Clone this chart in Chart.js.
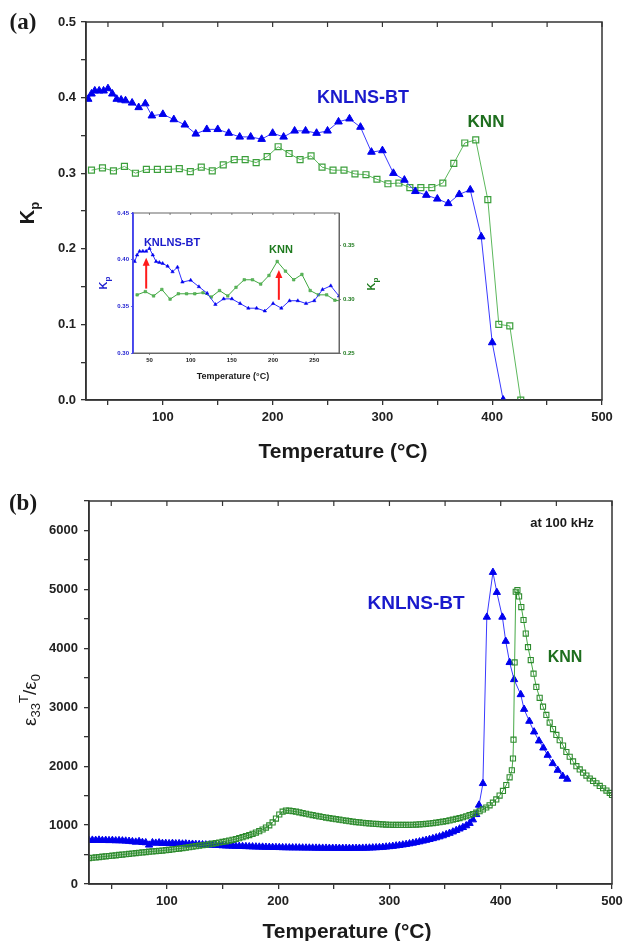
<!DOCTYPE html>
<html><head><meta charset="utf-8">
<script src="https://cdn.jsdelivr.net/npm/chart.js@4.4.1/dist/chart.umd.min.js"></script>
<style>
html,body{margin:0;padding:0;background:#fff;}
#wrap{position:relative;width:629px;height:941px;overflow:hidden;background:#fff;font-family:"Liberation Sans",Arial,sans-serif;color:#1a1a1a;}
canvas{position:absolute;}
.lbl{position:absolute;white-space:nowrap;transform:translate(-50%,-50%);line-height:1;}
.rot{transform:translate(-50%,-50%) rotate(-90deg);}
sub,sup{line-height:0;}
</style></head><body>
<div id="wrap">
<canvas id="ca" width="629" height="470" style="left:0;top:0"></canvas>
<canvas id="cb" width="629" height="471" style="left:0;top:470px"></canvas>
<canvas id="ci" width="265" height="190" style="left:100px;top:200px"></canvas>

<div class="lbl" style="left:23px;top:22px;font:bold 23px 'Liberation Serif','Times New Roman',serif;">(a)</div>
<div class="lbl" style="left:23px;top:503px;font:bold 23px 'Liberation Serif','Times New Roman',serif;">(b)</div>

<div class="lbl rot" style="left:27px;top:213px;font-weight:bold;font-size:20px;">K<sub style="font-size:13px">p</sub></div>
<div class="lbl" style="left:343px;top:450px;font-weight:bold;font-size:21px;">Temperature (°C)</div>
<div class="lbl" style="left:363px;top:97px;font-weight:bold;font-size:18px;color:#1a1acc;">KNLNS-BT</div>
<div class="lbl" style="left:486px;top:121px;font-weight:bold;font-size:17px;color:#1e6e1e;">KNN</div>

<div class="lbl" style="left:172px;top:242px;font-weight:bold;font-size:11px;color:#1a1acc;">KNLNS-BT</div>
<div class="lbl" style="left:281px;top:249px;font-weight:bold;font-size:11px;color:#1e7a1e;">KNN</div>
<div class="lbl" style="left:233px;top:376px;font-weight:bold;font-size:9px;">Temperature (°C)</div>
<div class="lbl rot" style="left:103px;top:283px;font-weight:bold;font-size:11px;color:#2020d0;">K<sub style="font-size:8px">p</sub></div>
<div class="lbl rot" style="left:371px;top:284px;font-weight:bold;font-size:11px;color:#1e7a1e;">K<sub style="font-size:8px">p</sub></div>

<div class="lbl rot" style="left:29px;top:700px;font-size:19px;">ε<sub style="font-size:13px">33</sub><sup style="font-size:13px">T</sup>/ε<sub style="font-size:13px">0</sub></div>
<div class="lbl" style="left:347px;top:930px;font-weight:bold;font-size:21px;">Temperature (°C)</div>
<div class="lbl" style="left:562px;top:522px;font-weight:bold;font-size:13px;">at 100 kHz</div>
<div class="lbl" style="left:416px;top:602px;font-weight:bold;font-size:19px;color:#1a1acc;">KNLNS-BT</div>
<div class="lbl" style="left:565px;top:657px;font-weight:bold;font-size:16px;color:#1e6e1e;">KNN</div>
</div>
<script>
// ---------- Panel (a): planar coupling factor Kp ----------
const kpT_BT = [32,35,38,42,46,50,54,58,62,66,72,78,84,90,100,110,120,130,140,150,160,170,180,190,200,210,220,230,240,250,260,270,280,290,300,310,320,330,340,350,360,370,380,390,400,410];
const kp_BT  = [0.398,0.405,0.409,0.409,0.409,0.412,0.405,0.398,0.397,0.396,0.393,0.387,0.392,0.376,0.378,0.371,0.364,0.352,0.358,0.358,0.353,0.348,0.348,0.345,0.353,0.348,0.356,0.356,0.353,0.356,0.368,0.372,0.361,0.328,0.330,0.300,0.291,0.276,0.271,0.266,0.260,0.272,0.278,0.216,0.076,0.000];
const kpT_KNN = [35,45,55,65,75,85,95,105,115,125,135,145,155,165,175,185,195,205,215,225,235,245,255,265,275,285,295,305,315,325,335,345,355,365,375,385,396,406,416,426];
const kp_KNN  = [0.304,0.307,0.303,0.309,0.300,0.305,0.305,0.305,0.306,0.302,0.308,0.303,0.311,0.318,0.318,0.314,0.322,0.335,0.326,0.318,0.323,0.308,0.304,0.304,0.299,0.298,0.292,0.286,0.287,0.281,0.281,0.281,0.287,0.313,0.340,0.344,0.265,0.100,0.098,0.000];

// ---------- Panel (b): dielectric constant at 100 kHz ----------
const epsT_BT = [30,33,36,39,42,45,48,51,54,57,60,63,66,69,72,75,78,81,84,87,90,93,96,99,102,105,108,111,114,117,120,123,126,129,132,135,138,141,144,147,150,153,156,159,162,165,168,171,174,177,180,183,186,189,192,195,198,201,204,207,210,213,216,219,222,225,228,231,234,237,240,243,246,249,252,255,258,261,264,267,270,273,276,279,282,285,288,291,294,297,300,303,306,309,312,315,318,321,324,327,330,333,336,339,342,345,348,351,354,357,360,363,366,369,372,375,378,380.5,384,387.5,393,396.5,401.5,404.5,408,412,418,421,425.7,430,434.4,438.3,442.2,446.7,451.2,455.7,459.8];
const eps_BT  = [740,745,742,746,740,742,738,741,735,737,733,730,726,720,712,722,706,702,662,702,694,700,690,690,686,690,684,686,680,682,677,676,673,670,668,665,664,660,658,655,650,648,645,644,641,640,638,636,634,632,630,628,627,625,624,622,621,620,618,617,616,615,615,614,613,612,612,611,610,610,609,609,608,608,607,607,607,606,606,607,607,608,609,610,612,614,617,620,624,629,635,641,648,656,664,673,683,694,705,717,730,743,757,771,786,802,820,840,862,885,910,935,960,990,1030,1090,1180,1340,1706,4530,5290,4950,4530,4120,3760,3470,3215,2966,2763,2582,2429,2310,2186,2045,1932,1830,1780];
const epsT_KNN = [30,33,36,39,42,45,48,51,54,57,60,63,66,69,72,75,78,81,84,87,90,93,96,99,102,105,108,111,114,117,120,123,126,129,132,135,138,141,144,147,150,153,156,159,162,165,168,171,174,177,180,183,186,189,192,195,198,201,204,207,210,213,216,219,222,225,228,231,234,237,240,243,246,249,252,255,258,261,264,267,270,273,276,279,282,285,288,291,294,297,300,303,306,309,312,315,318,321,324,327,330,333,336,339,342,345,348,351,354,357,360,363,366,369,372,375,378,381,384,387,390,393,396,399,402,405,408,410,411,411.5,412.5,413.5,415,416.5,418.5,420.5,422.5,424.5,427,429.5,432,435,438,441,444,447,450,453,456,459,462,465,468,471,474,477,480,483,486,489,492,495,498,500];
const eps_KNN  = [440,445,451,457,463,469,475,481,487,493,499,505,511,518,524,530,536,542,548,553,558,563,568,574,580,587,594,601,609,617,625,634,642,650,658,666,675,684,694,704,714,725,737,750,764,778,794,812,831,851,873,897,925,957,995,1045,1110,1180,1228,1246,1245,1237,1227,1216,1204,1192,1180,1169,1158,1147,1137,1127,1118,1109,1100,1091,1082,1074,1066,1058,1051,1045,1039,1033,1028,1023,1019,1015,1011,1008,1006,1004,1003,1002,1002,1003,1004,1006,1009,1012,1016,1021,1027,1034,1041,1049,1058,1068,1079,1091,1104,1118,1133,1150,1168,1188,1210,1235,1265,1298,1335,1380,1435,1500,1580,1680,1810,1930,2130,2450,3760,4960,4990,4880,4700,4480,4250,4020,3800,3570,3345,3160,3010,2870,2740,2630,2530,2440,2350,2240,2160,2080,2000,1945,1890,1840,1790,1750,1710,1665,1625,1585,1545,1510];

// ---------- tick values ----------
const tempTicks = [50,100,150,200,250,300,350,400,450,500];
const kpTicks = [0,0.05,0.1,0.15,0.2,0.25,0.3,0.35,0.4,0.45,0.5];
const epsTicks = [0,500,1000,1500,2000,2500,3000,3500,4000,4500,5000,5500,6000,6500];
const insetTempTicks = [50,100,150,200,250];
const insetTopTicks = [50,75,100,125,150,175,200,225,250,275];
const insetKpLeftTicks = [0.30,0.35,0.40,0.45];
const insetKpRightTicks = [0.25,0.30,0.35];
// inset annotation arrows (temperature, Kp from, Kp to)
const arrowT = [46,207];
const arrowFrom = [0.369,0.357];
const arrowTo = [0.402,0.389];

const pts = (xs, ys) => xs.map((x, i) => ({x: x, y: ys[i]}));
const FONT = '"Liberation Sans", Arial, sans-serif';
const tickFont = {family: FONT, size: 13, weight: 'bold'};
const gridOut = {drawOnChartArea:false, drawTicks:true, tickLength:5, color:'#333', lineWidth:1.3};
const isMult = (v, m) => Math.abs(v/m - Math.round(v/m)) < 1e-6;

const framePlugin = {
  id: 'frame',
  afterDraw(chart, args, o) {
    const {ctx, chartArea: a, scales} = chart;
    ctx.save();
    ctx.strokeStyle = o.color || '#333';
    ctx.lineWidth = o.width || 1.5;
    ctx.strokeRect(a.left, a.top, a.right - a.left, a.bottom - a.top);
    if (o.leftColor) {
      ctx.strokeStyle = o.leftColor; ctx.lineWidth = o.leftWidth || 1.5;
      ctx.beginPath(); ctx.moveTo(a.left, a.top); ctx.lineTo(a.left, a.bottom); ctx.stroke();
    }
    if (o.topTicks) {
      ctx.strokeStyle = o.color || '#333'; ctx.lineWidth = o.tickWidth || 1.2;
      o.topTicks.forEach(v => {
        const x = scales.x.getPixelForValue(v);
        ctx.beginPath(); ctx.moveTo(x, a.top); ctx.lineTo(x, a.top + o.tickLen); ctx.stroke();
      });
    }
    if (o.arrows) {
      const ys = scales[o.arrows.axis];
      ctx.strokeStyle = '#ff1a1a'; ctx.fillStyle = '#ff1a1a'; ctx.lineWidth = 2;
      o.arrows.t.forEach((t, i) => {
        const x = scales.x.getPixelForValue(t);
        const y0 = ys.getPixelForValue(o.arrows.from[i]);
        const y1 = ys.getPixelForValue(o.arrows.to[i]);
        ctx.beginPath(); ctx.moveTo(x, y0); ctx.lineTo(x, y1 + 5); ctx.stroke();
        ctx.beginPath(); ctx.moveTo(x, y1); ctx.lineTo(x - 3.5, y1 + 8); ctx.lineTo(x + 3.5, y1 + 8); ctx.closePath(); ctx.fill();
      });
    }
    ctx.restore();
  }
};

const tempAxis = (height) => ({
  type: 'linear', min: 30, max: 500,
  afterBuildTicks: s => { s.ticks = tempTicks.map(v => ({value: v})); },
  afterFit: s => { s.height = height; },
  ticks: {autoSkip: false, maxRotation: 0, padding: 5, color: '#222', font: tickFont,
          callback: v => isMult(v, 100) ? String(v) : ''},
  grid: gridOut, border: {color: '#333', width: 1.5}
});

// ---------- Chart (a) ----------
new Chart(document.getElementById('ca'), {
  type: 'scatter',
  data: {datasets: [
    {data: pts(kpT_BT, kp_BT), showLine: true, borderColor: '#3a3aff', borderWidth: 1,
     pointStyle: 'triangle', pointRadius: 4.4, pointBackgroundColor: '#0000ee', pointBorderColor: '#0000ee', pointBorderWidth: 1},
    {data: pts(kpT_KNN, kp_KNN), showLine: true, borderColor: '#5cb85c', borderWidth: 1,
     pointStyle: 'rect', pointRadius: 4.2, pointBackgroundColor: 'rgba(255,255,255,0)', pointBorderColor: '#3c9f3c', pointBorderWidth: 1.2}
  ]},
  options: {
    responsive: false, animation: false, devicePixelRatio: 1,
    layout: {padding: {left: 0, right: 27, top: 22, bottom: 0}},
    plugins: {legend: {display: false}, tooltip: {enabled: false},
              frame: {topTicks: tempTicks, tickLen: 5}},
    scales: {
      x: tempAxis(70),
      y: {min: 0, max: 0.5,
          afterBuildTicks: s => { s.ticks = kpTicks.map(v => ({value: v})); },
          afterFit: s => { s.width = 86; },
          ticks: {autoSkip: false, padding: 5, color: '#222', font: tickFont,
                  callback: v => isMult(v, 0.1) ? v.toFixed(1) : ''},
          grid: gridOut, border: {color: '#333', width: 1.5}}
    }
  },
  plugins: [framePlugin]
});

// ---------- Inset of (a) ----------
const insetFont = {family: FONT, size: 6, weight: 'bold'};
new Chart(document.getElementById('ci'), {
  type: 'scatter',
  data: {datasets: [
    {data: pts(kpT_BT, kp_BT), yAxisID: 'y', showLine: true, borderColor: '#3030ff', borderWidth: 1,
     pointStyle: 'triangle', pointRadius: 2, pointBackgroundColor: '#0000ee', pointBorderColor: '#0000ee', pointBorderWidth: 0.5},
    {data: pts(kpT_KNN, kp_KNN), yAxisID: 'y2', showLine: true, borderColor: '#40a840', borderWidth: 1,
     pointStyle: 'rect', pointRadius: 1.8, pointBackgroundColor: '#5cb85c', pointBorderColor: '#3c9f3c', pointBorderWidth: 0.5}
  ]},
  options: {
    responsive: false, animation: false, devicePixelRatio: 1,
    layout: {padding: {left: 0, right: 0, top: 13, bottom: 0}},
    plugins: {legend: {display: false}, tooltip: {enabled: false},
              frame: {color: '#666', width: 1, leftColor: '#4040ff', leftWidth: 1.5,
                      topTicks: insetTopTicks, tickLen: 2, tickWidth: 0.8,
                      arrows: {axis: 'y', t: arrowT, from: arrowFrom, to: arrowTo}}},
    scales: {
      x: {type: 'linear', min: 30, max: 280,
          afterBuildTicks: s => { s.ticks = insetTempTicks.map(v => ({value: v})); },
          afterFit: s => { s.height = 37; },
          ticks: {autoSkip: false, maxRotation: 0, padding: 2, color: '#222', font: insetFont},
          grid: {drawOnChartArea: false, tickLength: 2, color: '#666', lineWidth: 0.8}, border: {color: '#666', width: 1}},
      y: {position: 'left', min: 0.30, max: 0.45,
          afterBuildTicks: s => { s.ticks = insetKpLeftTicks.map(v => ({value: v})); },
          afterFit: s => { s.width = 33; },
          ticks: {autoSkip: false, padding: 2, color: '#2020d0', font: insetFont, callback: v => v.toFixed(2)},
          grid: {drawOnChartArea: false, tickLength: 2, color: '#4040ff', lineWidth: 0.8}, border: {color: '#4040ff', width: 1.5}},
      y2: {position: 'right', min: 0.25, max: 0.38,
          afterBuildTicks: s => { s.ticks = insetKpRightTicks.map(v => ({value: v})); },
          afterFit: s => { s.width = 26; },
          ticks: {autoSkip: false, padding: 2, color: '#1e7a1e', font: insetFont, callback: v => v.toFixed(2)},
          grid: {drawOnChartArea: false, tickLength: 2, color: '#666', lineWidth: 0.8}, border: {color: '#666', width: 1}}
    }
  },
  plugins: [framePlugin]
});

// ---------- Chart (b) ----------
new Chart(document.getElementById('cb'), {
  type: 'scatter',
  data: {datasets: [
    {data: pts(epsT_KNN, eps_KNN), showLine: true, borderColor: '#45a845', borderWidth: 1,
     pointStyle: 'rect', pointRadius: 3.6, pointBackgroundColor: 'rgba(255,255,255,0)', pointBorderColor: '#2e8b2e', pointBorderWidth: 1.1},
    {data: pts(epsT_BT, eps_BT), showLine: true, borderColor: '#3a3aff', borderWidth: 1,
     pointStyle: 'triangle', pointRadius: 4.2, pointBackgroundColor: '#0000ee', pointBorderColor: '#0000ee', pointBorderWidth: 1}
  ]},
  options: {
    responsive: false, animation: false, devicePixelRatio: 1,
    layout: {padding: {left: 0, right: 17, top: 31, bottom: 0}},
    plugins: {legend: {display: false}, tooltip: {enabled: false},
              frame: {topTicks: tempTicks, tickLen: 5}},
    scales: {
      x: tempAxis(57),
      y: {min: 0, max: 6500,
          afterBuildTicks: s => { s.ticks = epsTicks.map(v => ({value: v})); },
          afterFit: s => { s.width = 89; },
          ticks: {autoSkip: false, padding: 6, color: '#222', font: tickFont,
                  callback: v => isMult(v, 1000) ? String(v) : ''},
          grid: gridOut, border: {color: '#333', width: 1.5}}
    }
  },
  plugins: [framePlugin]
});
</script>
</body></html>
